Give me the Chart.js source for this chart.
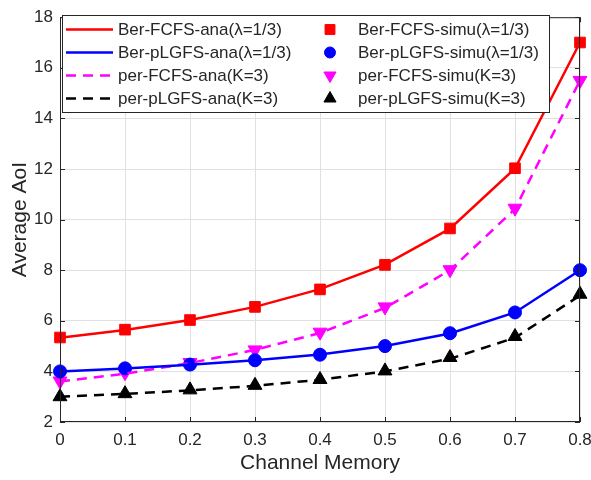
<!DOCTYPE html>
<html lang="en">
<head>
  <meta charset="UTF-8">
  <title>Average AoI vs Channel Memory</title>
  <script src="https://cdn.jsdelivr.net/npm/chart.js"></script>
  <style>
    body { margin: 0; padding: 0; background: #fff; }
    .chart-container { width: 591px; height: 480px; }
  </style>
</head>
<body>
  <div class="chart-container">
    <canvas id="myChart"></canvas>
  </div>

  <script>
    const memory = ['0', '0.1', '0.2', '0.3', '0.4', '0.5', '0.6', '0.7', '0.8'];

    const berFcfsAna = [5.33, 5.64, 6.03, 6.55, 7.25, 8.22, 9.64, 12.02, 17.0];
    const berPlgfsAna = [4.0, 4.11, 4.26, 4.44, 4.67, 5.0, 5.5, 6.33, 8.0];
    const perFcfsAna = [3.6, 3.91, 4.33, 4.85, 5.52, 6.51, 8.0, 10.42, 15.5];
    const perPlgfsAna = [3.0, 3.11, 3.25, 3.43, 3.67, 4.0, 4.5, 5.33, 7.0];

    const berFcfsSim = [5.34, 5.65, 6.03, 6.55, 7.24, 8.21, 9.65, 12.03, 17.0];
    const berPlgfsSim = [4.0, 4.12, 4.27, 4.44, 4.66, 5.0, 5.51, 6.33, 8.0];
    const perFcfsSim = [3.62, 3.95, 4.35, 4.85, 5.55, 6.55, 8.02, 10.45, 15.5];
    const perPlgfsSim = [3.0, 3.12, 3.27, 3.45, 3.68, 4.02, 4.55, 5.38, 7.05];

    const yTicks = [2, 4, 6, 8, 10, 12, 14, 16, 18];

    const FONT = '"Liberation Sans", Arial, sans-serif';

    // MATLAB style box, inward ticks and two-column legend
    const matlabPlugin = {
      id: 'matlab',
      afterDraw(chart) {
        const { ctx, chartArea: a, scales } = chart;
        ctx.save();
        ctx.strokeStyle = '#262626';
        ctx.lineWidth = 1;
        ctx.strokeRect(a.left + 0.5, a.top + 0.5, a.right - a.left - 1, a.bottom - a.top - 1);
        ctx.beginPath();
        memory.forEach((m, i) => {
          const x = Math.round(scales.x.getPixelForValue(i)) + 0.5;
          ctx.moveTo(x, a.bottom); ctx.lineTo(x, a.bottom - 5);
          ctx.moveTo(x, a.top); ctx.lineTo(x, a.top + 5);
        });
        yTicks.forEach(v => {
          const y = Math.round(scales.y.getPixelForValue(v)) + 0.5;
          ctx.moveTo(a.left, y); ctx.lineTo(a.left + 5, y);
          ctx.moveTo(a.right, y); ctx.lineTo(a.right - 5, y);
        });
        ctx.stroke();

        // legend
        const lx = 62, ly = 15, lw = 487, lh = 97;
        const legendRadius = [7, 5.5, 7, 7];
        ctx.fillStyle = '#fff';
        ctx.fillRect(lx, ly, lw, lh);
        ctx.strokeStyle = '#262626';
        ctx.strokeRect(lx + 0.5, ly + 0.5, lw, lh);
        ctx.font = '17px ' + FONT;
        ctx.textBaseline = 'middle';
        ctx.textAlign = 'left';
        const ds = chart.data.datasets;
        for (let i = 0; i < 4; i++) {
          const y = ly + 14.5 + i * 23;
          const line = ds[i], pt = ds[i + 4];
          ctx.beginPath();
          ctx.strokeStyle = line.borderColor;
          ctx.lineWidth = 2.5;
          ctx.setLineDash(line.borderDash || []);
          ctx.moveTo(lx + 4, y); ctx.lineTo(lx + 51, y);
          ctx.stroke();
          ctx.setLineDash([]);
          ctx.fillStyle = '#262626';
          ctx.fillText(line.label, lx + 56, y + 1);
          ctx.fillText(pt.label, lx + 296, y + 1);
          ctx.fillStyle = pt.backgroundColor;
          ctx.strokeStyle = pt.borderColor;
          ctx.lineWidth = 1;
          Chart.helpers.drawPoint(ctx, {
            pointStyle: pt.pointStyle,
            radius: legendRadius[i],
            rotation: pt.rotation || 0,
            borderWidth: 1
          }, lx + 268, y);
        }
        ctx.restore();
      }
    };

    const lineSet = (label, data, color, dash) => ({
      label, data,
      borderColor: color,
      backgroundColor: color,
      borderWidth: 2.5,
      borderDash: dash,
      pointRadius: 0,
      fill: false,
      tension: 0
    });

    const pointSet = (label, data, color, style, radius, rotation) => ({
      label, data,
      showLine: false,
      borderColor: color,
      backgroundColor: color,
      pointStyle: style,
      pointRadius: radius,
      pointBorderWidth: 1,
      rotation: rotation || 0
    });

    const ctx = document.getElementById('myChart').getContext('2d');
    const myChart = new Chart(ctx, {
      type: 'line',
      data: {
        labels: memory,
        datasets: [
          lineSet('Ber-FCFS-ana(\u03bb=1/3)', berFcfsAna, '#ff0000', []),
          lineSet('Ber-pLGFS-ana(\u03bb=1/3)', berPlgfsAna, '#0000ff', []),
          lineSet('per-FCFS-ana(K=3)', perFcfsAna, '#ff00ff', [10, 7]),
          lineSet('per-pLGFS-ana(K=3)', perPlgfsAna, '#000000', [10, 7]),
          pointSet('Ber-FCFS-simu(\u03bb=1/3)', berFcfsSim, '#ff0000', 'rect', 7.5),
          pointSet('Ber-pLGFS-simu(\u03bb=1/3)', berPlgfsSim, '#0000ff', 'circle', 6.5),
          pointSet('per-FCFS-simu(K=3)', perFcfsSim, '#ff00ff', 'triangle', 8, 180),
          pointSet('per-pLGFS-simu(K=3)', perPlgfsSim, '#000000', 'triangle', 8)
        ]
      },
      options: {
        responsive: true,
        maintainAspectRatio: false,
        animation: false,
        layout: { padding: { top: 15, right: 11, left: 0, bottom: 0 } },
        scales: {
          x: {
            offset: false,
            grid: { color: '#e0e0e0', drawTicks: false },
            border: { display: false },
            ticks: { color: '#262626', font: { family: FONT, size: 17 }, padding: 8, maxRotation: 0 },
            title: { display: true, text: 'Channel Memory', color: '#262626', font: { family: FONT, size: 21 }, padding: { top: 2 } },
            afterFit(scale) {
              scale.height = 58;
              scale.paddingRight = 0;
              scale.paddingLeft = 0;
            }
          },
          y: {
            min: 2,
            max: 18,
            afterBuildTicks(scale) { scale.ticks = yTicks.map(v => ({ value: v })); },
            grid: { color: '#e0e0e0', drawTicks: false },
            border: { display: false },
            ticks: { color: '#262626', font: { family: FONT, size: 17 }, padding: 7 },
            title: { display: true, text: 'Average AoI', color: '#262626', font: { family: FONT, size: 21 }, padding: { top: 8, bottom: 0 } },
            afterFit(scale) { scale.width = 60; }
          }
        },
        plugins: {
          legend: { display: false },
          tooltip: { enabled: false }
        }
      },
      plugins: [matlabPlugin]
    });
  </script>
</body>
</html>
